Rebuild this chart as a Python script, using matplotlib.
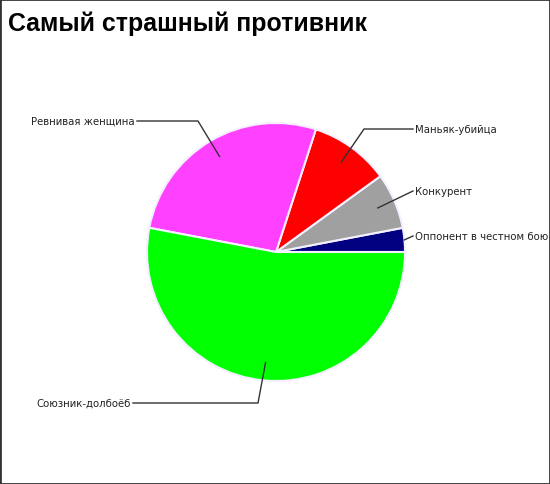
import numpy as np
import matplotlib.pyplot as plt
from matplotlib.patches import Rectangle

# data
labels = ["Оппонент в честном бою", "Конкурент", "Маньяк-убийца",
          "Ревнивая женщина", "Союзник-долбоёб"]
values = [3, 7, 10, 27, 53]
colors = ["#000080", "#a0a0a0", "#ff0000", "#ff40ff", "#00ff00"]

W, H = 550, 485
cx, cy, R = 276, H - 253, 129

fig = plt.figure(figsize=(W / 100, H / 100), dpi=100)
ax = fig.add_axes([0, 0, 1, 1])
ax.set_xlim(0, W)
ax.set_ylim(0, H)
ax.set_aspect('equal')
ax.axis('off')

wedges, _ = ax.pie(values, colors=colors, startangle=0, counterclock=True,
                   center=(cx, cy), radius=R,
                   wedgeprops=dict(edgecolor='#f4f0ff', linewidth=1.5))
ax.set_xlim(0, W)
ax.set_ylim(0, H)

# label layout: (radius fraction of anchor, elbow point or None, text point, ha)
layout = [
    (1.0, None, (415, H - 237), 'left'),
    (0.86, None, (415, H - 192), 'left'),
    (0.86, (364, H - 130), (415, H - 130), 'left'),
    (0.86, (198, H - 122), (135, H - 122), 'right'),
    (0.86, (258, H - 404), (131, H - 404), 'right'),
]

for w, lab, (rf, elbow, tp, ha) in zip(wedges, labels, layout):
    mid = np.deg2rad((w.theta1 + w.theta2) / 2)
    ax_ = cx + rf * R * np.cos(mid)
    ay_ = cy + rf * R * np.sin(mid)
    end_x = tp[0] - 2 if ha == 'left' else tp[0] + 2
    if elbow is None:
        xs, ys = [ax_, end_x], [ay_, tp[1]]
    else:
        xs, ys = [ax_, elbow[0], end_x], [ay_, elbow[1], tp[1]]
    ax.plot(xs, ys, color='#333333', lw=1)
    ax.text(tp[0], tp[1], lab, ha=ha, va='center', fontsize=7.3,
            family='DejaVu Sans', color='#222222')

fig.text(8 / W, 1 - 31 / H, "Самый страшный противник", fontsize=17.9,
         fontweight='bold', family='Liberation Sans', va='baseline', ha='left')

fig.patches.append(Rectangle((0, 0), 1, 1, transform=fig.transFigure,
                             fill=False, edgecolor='#333333', lw=2))

fig.savefig('out.png', dpi=100)
